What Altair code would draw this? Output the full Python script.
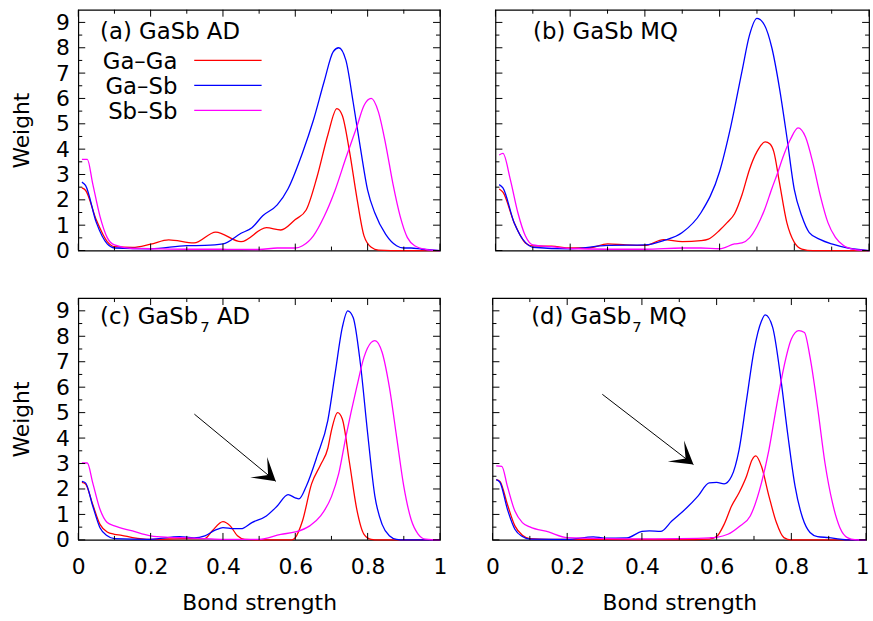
import math
import altair as alt
import pandas as pd

FONT = "DejaVu Sans"

series = ["Ga–Ga", "Ga–Sb", "Sb–Sb"]
colors = ["#ff0000", "#0000ff", "#ff00ff"]

x_major = [0, 0.2, 0.4, 0.6, 0.8, 1.0]
x_minor = [0.1, 0.3, 0.5, 0.7, 0.9]
y_major = [0, 1, 2, 3, 4, 5, 6, 7, 8, 9]
y_minor = [0.5, 1.5, 2.5, 3.5, 4.5, 5.5, 6.5, 7.5, 8.5]

# ---------------- panel (a) GaSb AD ----------------
a_GaGa_x = [0.01, 0.02, 0.05, 0.08, 0.1, 0.15, 0.2, 0.25, 0.32, 0.38, 0.45, 0.52, 0.56, 0.6, 0.63, 0.66, 0.69, 0.715, 0.73, 0.75, 0.77, 0.79, 0.81, 0.83, 0.9, 1.0]
a_GaGa_y = [2.47, 2.38, 1.2, 0.35, 0.15, 0.12, 0.25, 0.42, 0.3, 0.73, 0.35, 0.9, 0.81, 1.22, 1.6, 2.9, 4.56, 5.6, 5.33, 3.9, 2.1, 0.58, 0.13, 0.02, 0, 0]
a_GaSb_x = [0.01, 0.02, 0.05, 0.08, 0.1, 0.2, 0.3, 0.35, 0.4, 0.45, 0.48, 0.51, 0.55, 0.58, 0.62, 0.65, 0.68, 0.705, 0.72, 0.74, 0.76, 0.78, 0.8, 0.82, 0.85, 0.88, 0.9, 0.92, 0.95, 1.0]
a_GaSb_y = [2.7, 2.57, 1.1, 0.26, 0.1, 0.07, 0.19, 0.2, 0.26, 0.68, 0.9, 1.37, 1.8, 2.44, 3.86, 5.14, 6.68, 7.85, 8.0, 7.5, 5.85, 4.05, 2.38, 1.48, 0.64, 0.19, 0.1, 0.1, 0.05, 0]
a_SbSb_x = [0.01, 0.025, 0.04, 0.06, 0.08, 0.1, 0.15, 0.2, 0.3, 0.4, 0.5, 0.55, 0.6, 0.62, 0.65, 0.68, 0.71, 0.74, 0.77, 0.79, 0.81, 0.83, 0.85, 0.87, 0.89, 0.91, 0.93, 0.96, 1.0]
a_SbSb_y = [3.6, 3.6, 2.63, 1.35, 0.51, 0.22, 0.08, 0.07, 0.05, 0.05, 0.04, 0.1, 0.1, 0.19, 0.58, 1.35, 2.38, 3.66, 4.88, 5.72, 6.0, 5.46, 4.18, 2.63, 1.35, 0.51, 0.19, 0.05, 0]

# ---------------- panel (b) GaSb MQ ----------------
b_GaGa_x = [0.01, 0.02, 0.05, 0.08, 0.1, 0.15, 0.2, 0.25, 0.3, 0.35, 0.4, 0.45, 0.5, 0.55, 0.57, 0.6, 0.62, 0.64, 0.66, 0.68, 0.7, 0.722, 0.735, 0.745, 0.76, 0.78, 0.8, 0.82, 0.85, 1.0]
b_GaGa_y = [2.43, 2.3, 1.1, 0.3, 0.18, 0.17, 0.1, 0.1, 0.26, 0.22, 0.2, 0.43, 0.35, 0.39, 0.45, 0.8, 1.1, 1.45, 2.2, 3.2, 3.9, 4.29, 4.2, 3.9, 2.7, 1.1, 0.32, 0.06, 0, 0]
b_GaSb_x = [0.01, 0.02, 0.05, 0.08, 0.1, 0.2, 0.3, 0.4, 0.45, 0.5, 0.55, 0.6, 0.63, 0.66, 0.68, 0.7, 0.72, 0.74, 0.76, 0.78, 0.8, 0.82, 0.84, 0.87, 0.9, 0.95, 1.0]
b_GaSb_y = [2.6, 2.47, 1.1, 0.32, 0.13, 0.07, 0.2, 0.22, 0.39, 0.71, 1.49, 3.12, 4.9, 7.08, 8.5, 9.16, 8.9, 7.99, 6.43, 4.48, 2.4, 1.36, 0.71, 0.43, 0.26, 0.08, 0]
b_SbSb_x = [0.01, 0.02, 0.04, 0.06, 0.08, 0.1, 0.15, 0.2, 0.3, 0.4, 0.5, 0.55, 0.6, 0.64, 0.66, 0.68, 0.7, 0.72, 0.74, 0.755, 0.77, 0.79, 0.81, 0.83, 0.85, 0.87, 0.89, 0.91, 0.93, 0.96, 1.0]
b_SbSb_y = [3.77, 3.83, 2.79, 1.49, 0.58, 0.22, 0.15, 0.08, 0.05, 0.05, 0.1, 0.1, 0.07, 0.26, 0.3, 0.5, 0.95, 1.6, 2.45, 3.05, 3.7, 4.4, 4.84, 4.48, 3.44, 2.14, 1.1, 0.52, 0.22, 0.05, 0]

# ---------------- panel (c) GaSb7 AD ----------------
c_GaGa_x = [0.01, 0.02, 0.04, 0.06, 0.08, 0.1, 0.12, 0.15, 0.2, 0.3, 0.35, 0.37, 0.4, 0.42, 0.44, 0.46, 0.5, 0.59, 0.6, 0.62, 0.645, 0.67, 0.69, 0.7, 0.717, 0.73, 0.75, 0.77, 0.79, 0.81, 0.83, 1.0]
c_GaGa_y = [2.26, 2.2, 1.39, 0.61, 0.31, 0.22, 0.18, 0.09, 0.02, 0.05, 0.05, 0.35, 0.72, 0.55, 0.16, 0.02, 0, 0, 0.09, 0.75, 2.2, 2.95, 3.6, 4.3, 5.0, 4.75, 3.02, 1.2, 0.22, 0.02, 0, 0]
c_GaSb_x = [0.01, 0.02, 0.04, 0.06, 0.08, 0.1, 0.2, 0.28, 0.32, 0.35, 0.38, 0.4, 0.43, 0.45, 0.48, 0.52, 0.55, 0.58, 0.6, 0.61, 0.63, 0.66, 0.69, 0.71, 0.73, 0.745, 0.76, 0.78, 0.8, 0.82, 0.84, 0.86, 0.88, 0.9, 1.0]
c_GaSb_y = [2.3, 2.24, 1.33, 0.48, 0.16, 0.05, 0.02, 0.13, 0.08, 0.16, 0.39, 0.48, 0.44, 0.44, 0.68, 0.94, 1.33, 1.78, 1.65, 1.61, 2.1, 3.28, 4.7, 6.53, 8.35, 9.0, 8.74, 6.92, 4.19, 1.72, 0.61, 0.16, 0.02, 0, 0]
c_SbSb_x = [0.01, 0.025, 0.04, 0.06, 0.08, 0.1, 0.15, 0.2, 0.25, 0.3, 0.35, 0.4, 0.5, 0.56, 0.6, 0.64, 0.67, 0.7, 0.72, 0.74, 0.77, 0.79, 0.81, 0.82, 0.84, 0.86, 0.88, 0.9, 0.92, 0.94, 0.96, 1.0]
c_SbSb_y = [3.02, 3.02, 2.24, 1.2, 0.68, 0.55, 0.35, 0.16, 0.1, 0.08, 0.05, 0.02, 0.02, 0.22, 0.31, 0.55, 0.94, 1.7, 2.6, 4.06, 6.01, 7.18, 7.76, 7.83, 7.37, 6.01, 4.06, 2.1, 0.81, 0.22, 0.03, 0]

# ---------------- panel (d) GaSb7 MQ ----------------
d_GaGa_x = [0.01, 0.02, 0.04, 0.06, 0.08, 0.1, 0.15, 0.3, 0.5, 0.58, 0.6, 0.62, 0.64, 0.66, 0.68, 0.695, 0.705, 0.72, 0.74, 0.76, 0.78, 0.8, 1.0]
d_GaGa_y = [2.37, 2.3, 1.39, 0.55, 0.18, 0.05, 0.02, 0.02, 0.01, 0.03, 0.13, 0.61, 1.33, 1.85, 2.5, 3.15, 3.3, 2.89, 1.72, 0.68, 0.09, 0, 0]
d_GaSb_x = [0.01, 0.02, 0.04, 0.06, 0.08, 0.1, 0.2, 0.27, 0.3, 0.36, 0.4, 0.42, 0.45, 0.48, 0.52, 0.55, 0.58, 0.6, 0.62, 0.64, 0.66, 0.68, 0.7, 0.72, 0.73, 0.75, 0.77, 0.79, 0.81, 0.83, 0.85, 0.87, 0.9, 0.93, 0.95, 1.0]
d_GaSb_y = [2.37, 2.26, 1.2, 0.42, 0.13, 0.03, 0.02, 0.12, 0.07, 0.08, 0.33, 0.35, 0.33, 0.74, 1.26, 1.72, 2.24, 2.26, 2.2, 2.5, 3.54, 5.49, 7.44, 8.6, 8.84, 8.35, 6.53, 4.19, 2.1, 0.87, 0.29, 0.13, 0.09, 0.03, 0, 0]
d_SbSb_x = [0.01, 0.025, 0.04, 0.06, 0.08, 0.1, 0.15, 0.2, 0.3, 0.4, 0.5, 0.58, 0.6, 0.63, 0.66, 0.69, 0.72, 0.74, 0.76, 0.78, 0.8, 0.82, 0.835, 0.85, 0.87, 0.89, 0.91, 0.93, 0.95, 0.97, 1.0]
d_SbSb_y = [2.91, 2.89, 2.1, 1.13, 0.68, 0.51, 0.31, 0.09, 0.05, 0.04, 0.05, 0.08, 0.1, 0.22, 0.52, 0.94, 2.24, 3.54, 5.23, 6.79, 7.89, 8.22, 8.15, 7.18, 5.23, 3.02, 1.46, 0.48, 0.09, 0.01, 0]

panel_series = {
    "a": [(a_GaGa_x, a_GaGa_y), (a_GaSb_x, a_GaSb_y), (a_SbSb_x, a_SbSb_y)],
    "b": [(b_GaGa_x, b_GaGa_y), (b_GaSb_x, b_GaSb_y), (b_SbSb_x, b_SbSb_y)],
    "c": [(c_GaGa_x, c_GaGa_y), (c_GaSb_x, c_GaSb_y), (c_SbSb_x, c_SbSb_y)],
    "d": [(d_GaGa_x, d_GaGa_y), (d_GaSb_x, d_GaSb_y), (d_SbSb_x, d_SbSb_y)],
}

# panel labels: (main text, subscript, rest)
panel_labels = {
    "a": ("(a) GaSb AD", "", ""),
    "b": ("(b) GaSb MQ", "", ""),
    "c": ("(c) GaSb", "7", "AD"),
    "d": ("(d) GaSb", "7", "MQ"),
}

# arrows: (start x, start y, tip x, tip y) in data units
arrow_c = (0.321, 4.94, 0.546, 2.30)
arrow_d = (0.294, 5.72, 0.538, 2.96)

Y_MAX = 9.5
ARROW_HEAD = "M0,0 L-1,-0.6 L-0.45,0 L-1,0.6 Z"
LBL = 23      # panel label / legend font size
TICK = 22     # tick label font size


def make_panel(key, W, H, show_x, show_y, label_dx, label_base, sub_dx=0,
               rest_dx=0, legend=False, arrow=None, last_right=False):
    rows = []
    for name, (xs, ys) in zip(series, panel_series[key]):
        for xv, yv in zip(xs, ys):
            rows.append({"series": name, "x": xv, "y": yv})
    df = pd.DataFrame(rows)

    if show_x:
        kw = {}
        if last_right:
            kw["labelAlign"] = {"condition": {"test": "datum.value == 1", "value": "right"},
                                "value": "center"}
            kw["labelOffset"] = {"condition": {"test": "datum.value == 1", "value": 3},
                                 "value": 0}
        xaxis = alt.Axis(values=x_major, format="~g", title="Bond strength",
                         labelFlush=False, labelPadding=17, titlePadding=15, **kw)
    else:
        xaxis = None
    yaxis = alt.Axis(values=y_major, format="d", title="Weight", labelFlush=False,
                     labelPadding=9, titlePadding=22) if show_y else None
    X = alt.X("x:Q", scale=alt.Scale(domain=[0, 1], nice=False, zero=False), axis=xaxis)
    Y = alt.Y("y:Q", scale=alt.Scale(domain=[0, Y_MAX], nice=False), axis=yaxis)

    layers = []
    layers.append(
        alt.Chart(df).mark_line(strokeWidth=1.3, interpolate="monotone").encode(
            x=X, y=Y,
            color=alt.Color("series:N", scale=alt.Scale(domain=series, range=colors), legend=None),
        )
    )
    # inward ticks on all four sides
    for vals, ln in ((x_major, 7), (x_minor, 4)):
        tdf = pd.DataFrame({"x": vals})
        layers.append(alt.Chart(tdf).mark_rule(color="black", strokeWidth=1).encode(
            x=X, y=alt.value(H), y2=alt.value(H - ln)))
        layers.append(alt.Chart(tdf).mark_rule(color="black", strokeWidth=1).encode(
            x=X, y=alt.value(0), y2=alt.value(ln)))
    for vals, ln in ((y_major, 7), (y_minor, 4)):
        tdf = pd.DataFrame({"y": vals})
        layers.append(alt.Chart(tdf).mark_rule(color="black", strokeWidth=1).encode(
            y=Y, x=alt.value(0), x2=alt.value(ln)))
        layers.append(alt.Chart(tdf).mark_rule(color="black", strokeWidth=1).encode(
            y=Y, x=alt.value(W), x2=alt.value(W - ln)))

    # panel label
    main, sub, rest = panel_labels[key]
    layers.append(alt.Chart(pd.DataFrame({"t": [main]})).mark_text(
        align="left", baseline="alphabetic", fontSize=LBL, font=FONT, color="black").encode(
        x=alt.value(label_dx), y=alt.value(label_base), text="t:N"))
    if sub:
        layers.append(alt.Chart(pd.DataFrame({"t": [sub]})).mark_text(
            align="left", baseline="alphabetic", fontSize=15, font=FONT, color="black").encode(
            x=alt.value(sub_dx), y=alt.value(label_base + 8), text="t:N"))
        layers.append(alt.Chart(pd.DataFrame({"t": [rest]})).mark_text(
            align="left", baseline="alphabetic", fontSize=LBL, font=FONT, color="black").encode(
            x=alt.value(rest_dx), y=alt.value(label_base), text="t:N"))

    if legend:
        for i, (name, col) in enumerate(zip(series, colors)):
            layers.append(alt.Chart(pd.DataFrame({"t": [name]})).mark_text(
                align="right", baseline="alphabetic", fontSize=LBL, font=FONT, color="black").encode(
                x=alt.value(100), y=alt.value(60 + 25.2 * i), text="t:N"))
            layers.append(alt.Chart(pd.DataFrame({"t": [name]})).mark_rule(
                color=col, strokeWidth=1.3).encode(
                x=alt.value(117), x2=alt.value(185), y=alt.value(51 + 25.3 * i)))

    if arrow:
        x0, y0, x1, y1 = arrow
        layers.append(alt.Chart(pd.DataFrame({"x": [x0], "y": [y0], "x2": [x1], "y2": [y1]})).mark_rule(
            color="black", strokeWidth=1).encode(x=X, y=Y, x2="x2:Q", y2="y2:Q"))
        ang = math.degrees(math.atan2((y0 - y1) * H / Y_MAX, (x1 - x0) * W))
        layers.append(alt.Chart(pd.DataFrame({"x": [x1], "y": [y1]})).mark_point(
            shape=ARROW_HEAD, filled=True, color="black", opacity=1, size=2000,
            angle=ang, strokeWidth=0).encode(x=X, y=Y))

    return alt.layer(*layers).properties(width=W, height=H)


pa = make_panel("a", 365, 243, False, True, 22, 30, legend=True)
pb = make_panel("b", 377, 243, False, False, 38, 30)
pc = make_panel("c", 365, 244, True, True, 22, 26, sub_dx=123, rest_dx=140, arrow=arrow_c)
pd_ = make_panel("d", 377, 244, True, False, 39, 26, sub_dx=141, rest_dx=158,
                 arrow=arrow_d, last_right=True)

top = alt.hconcat(pa, pb, spacing=50)
bottom = alt.hconcat(pc, pd_, spacing=37)

chart = alt.vconcat(top, bottom, spacing=34).properties(
    padding={"left": 10, "top": 5, "right": 0, "bottom": 0},
    background="white",
).configure_view(
    stroke="black", strokeWidth=1.2
).configure_axis(
    domain=False, ticks=False, grid=False,
    labelFont=FONT, labelFontSize=TICK, labelColor="black",
    titleFont=FONT, titleFontSize=22, titleFontWeight="normal", titleColor="black",
)

chart.save("out.html", embed_options={"renderer": "svg", "actions": False})
